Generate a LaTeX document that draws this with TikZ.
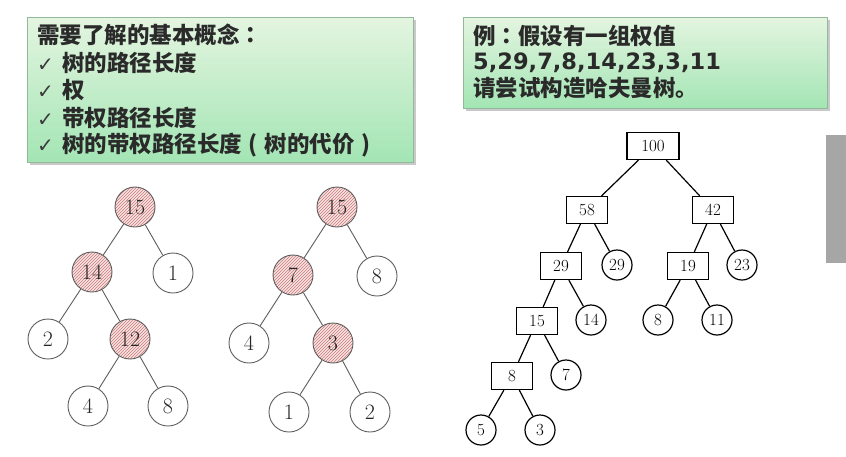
\documentclass[tikz,border=0pt]{standalone}
\usepackage{fontspec}
\newfontfamily\cjk{Noto Sans CJK SC}
\newfontfamily\cjktc{Noto Sans CJK TC}
\newfontfamily\dejavu{DejaVu Sans}
\usetikzlibrary{patterns,shadows}
\definecolor{txtc}{HTML}{2A2A2A}
\definecolor{chkc}{HTML}{3A3A3A}
\definecolor{boxtop}{HTML}{E4F5E0}
\definecolor{boxbot}{HTML}{A3E5B4}
\definecolor{boxline}{HTML}{93B89B}
\definecolor{edgec}{HTML}{5E5E5E}
\definecolor{hatchc}{HTML}{D07878}
\definecolor{hatchbg}{HTML}{F6E4E4}
\tikzset{
  greenbox/.style={draw=boxline, line width=0.8pt, top color=boxtop, bottom color=boxbot,
    drop shadow={shadow xshift=2.5pt, shadow yshift=-2.5pt, fill=black!35, opacity=0.6}},
  txt/.style={anchor=west, inner sep=0pt, text=txtc, font=\cjk\bfseries\fontsize{22.5}{26}\selectfont},
  tnode/.style={circle, draw=edgec, line width=0.9pt, minimum size=40pt, inner sep=0pt, fill=white,
    font=\fontsize{22}{22}\selectfont, text=black!85},
  hnode/.style={tnode, fill=none, preaction={fill=hatchbg}, pattern=north east lines, pattern color=hatchc},
  tedge/.style={draw=edgec, line width=0.9pt},
  hbox/.style={rectangle, draw=black, line width=1.2pt, minimum width=41pt, minimum height=27pt, inner sep=0pt,
    font=\fontsize{17}{17}\selectfont},
  hcirc/.style={circle, draw=black, line width=1.2pt, minimum size=30pt, inner sep=0pt,
    font=\fontsize{17}{17}\selectfont},
  hedge/.style={draw=black, line width=1.2pt}
}
\newcommand{\ck}{\makebox[25pt][l]{\color{chkc}\dejavu\mdseries\fontsize{20}{20}\selectfont ✓}}
\newcommand{\cln}{{\cjktc ：}}
\newcommand{\lp}{\makebox[22.5pt][c]{(}}
\newcommand{\rp}{\makebox[22.5pt][c]{)}}
\begin{document}
\begin{tikzpicture}[x=1pt,y=-1pt]
\useasboundingbox (0,0) rectangle (846,456);
\fill[white] (0,0) rectangle (846,456);
% side gray bar
\fill[black!35] (826,135) rectangle (846,263);
% boxes
\path[greenbox] (27,17) rectangle (413,162);
\path[greenbox] (463,17) rectangle (827,108);
% left box text
\node[txt] (l1) at (37,35) {需要了解的基本概念\cln};
\node[txt] (l2) at (37,63) {\ck 树的路径长度};
\node[txt] (l3) at (37,90) {\ck 权};
\node[txt] (l4) at (37,118) {\ck 带权路径长度};
\node[txt] (l5) at (37,145) {\ck 树的带权路径长度\lp 树的代价\rp};
% right box text
\node[txt] (r1) at (473,36) {例\cln 假设有一组权值};
\node[txt, font=\dejavu\bfseries\fontsize{22.5}{26}\selectfont] (r2) at (473,63) {5,29,7,8,14,23,3,11};
\node[txt] (r3) at (473,88) {请尝试构造哈夫曼树。};
% left tree 1
\node[hnode] (a15) at (135,207) {15};
\node[hnode] (a14) at (92,272) {14};
\node[tnode] (a1) at (173,273) {1};
\node[tnode] (a2) at (48,339) {2};
\node[hnode] (a12) at (130,339) {12};
\node[tnode] (a4) at (88,406) {4};
\node[tnode] (a8) at (168,406) {8};
\draw[tedge] (a15) -- (a14);
\draw[tedge] (a15) -- (a1);
\draw[tedge] (a14) -- (a2);
\draw[tedge] (a14) -- (a12);
\draw[tedge] (a12) -- (a4);
\draw[tedge] (a12) -- (a8);
% left tree 2
\node[hnode] (b15) at (337,207) {15};
\node[hnode] (b7) at (293,275) {7};
\node[tnode] (b8) at (377,276) {8};
\node[tnode] (b4) at (249,343) {4};
\node[hnode] (b3) at (333,343) {3};
\node[tnode] (b1) at (289,412) {1};
\node[tnode] (b2) at (370,412) {2};
\draw[tedge] (b15) -- (b7);
\draw[tedge] (b15) -- (b8);
\draw[tedge] (b7) -- (b4);
\draw[tedge] (b7) -- (b3);
\draw[tedge] (b3) -- (b1);
\draw[tedge] (b3) -- (b2);
% huffman tree
\node[hbox, minimum width=52pt] (h100) at (653,146) {100};
\node[hbox] (h58) at (587,210) {58};
\node[hbox] (h42) at (713,210) {42};
\node[hbox] (h29) at (561,266) {29};
\node[hcirc] (c29) at (617,265) {29};
\node[hbox] (h19) at (688,266) {19};
\node[hcirc] (c23) at (742,265) {23};
\node[hbox] (h15) at (537,321) {15};
\node[hcirc] (c14) at (591,320) {14};
\node[hcirc] (c8) at (658,320) {8};
\node[hcirc] (c11) at (717,320) {11};
\node[hbox] (h8) at (512,376) {8};
\node[hcirc] (c7) at (566,375) {7};
\node[hcirc] (c5) at (481,430) {5};
\node[hcirc] (c3) at (540,430) {3};
\draw[hedge] (h100) -- (h58);
\draw[hedge] (h100) -- (h42);
\draw[hedge] (h58) -- (h29);
\draw[hedge] (h58) -- (c29);
\draw[hedge] (h42) -- (h19);
\draw[hedge] (h42) -- (c23);
\draw[hedge] (h29) -- (h15);
\draw[hedge] (h29) -- (c14);
\draw[hedge] (h19) -- (c8);
\draw[hedge] (h19) -- (c11);
\draw[hedge] (h15) -- (h8);
\draw[hedge] (h15) -- (c7);
\draw[hedge] (h8) -- (c5);
\draw[hedge] (h8) -- (c3);
\end{tikzpicture}
\end{document}
